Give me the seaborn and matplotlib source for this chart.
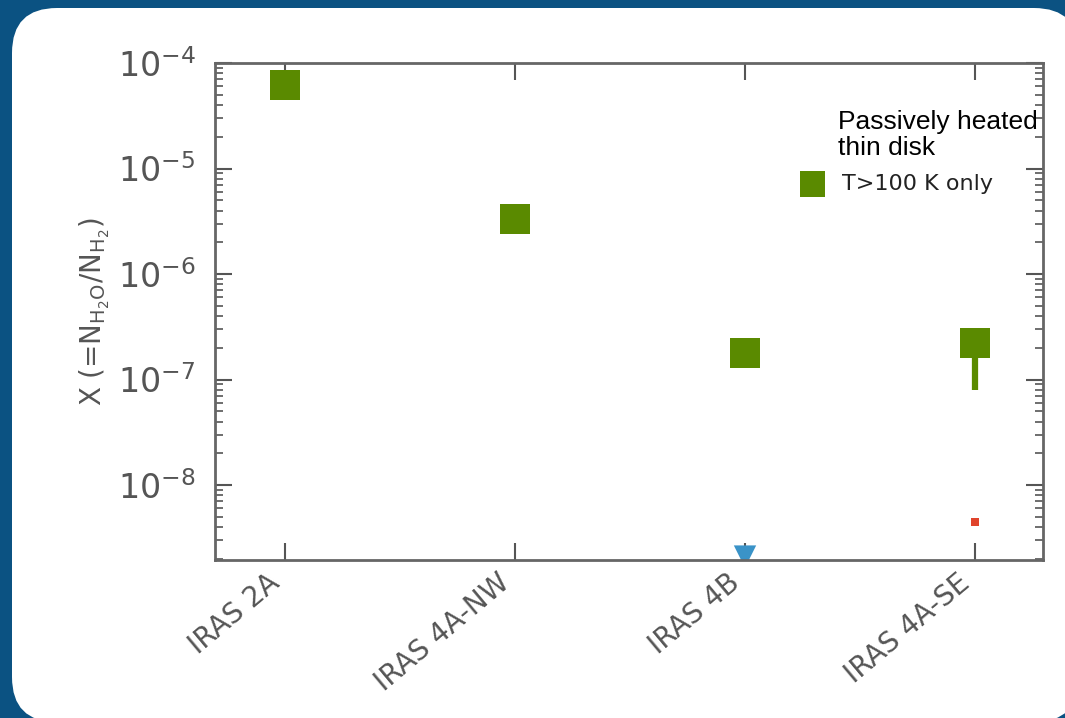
import matplotlib
matplotlib.use("Agg")
import matplotlib.pyplot as plt
from matplotlib.patches import FancyBboxPatch
from matplotlib.transforms import IdentityTransform
import matplotlib.ticker as mticker
import seaborn as sns
import pandas as pd
import numpy as np

# ---- data ----
sources = ["IRAS 2A", "IRAS 4A-NW", "IRAS 4B", "IRAS 4A-SE"]
abund_hot = [6.2e-5, 3.3e-6, 1.8e-7, 2.2e-7]      # T>100 K only (green squares)
err_low_hot = [0.0, 0.0, 0.0, 1.4e-7]             # lower error extent
red_src = ["IRAS 4A-SE"]
red_val = [4.45e-9]
blue_src = ["IRAS 4B"]
blue_val = [2.1e-9]
legend_title = "Passively heated\nthin disk"
legend_label = "T>100 K only"
ylabel = r"X (=N$_{\mathrm{H_2O}}$/N$_{\mathrm{H_2}}$)"

GREEN = "#5a8a00"
GRAY = "#555555"
BLUE_BG = "#0b5282"

sns.set_theme(style="ticks")
plt.rcParams["font.family"] = ["DejaVu Sans"]

fig = plt.figure(figsize=(10.65, 7.18), dpi=100, facecolor=BLUE_BG)
panel = FancyBboxPatch((12, -4), 1067, 714, boxstyle="round,pad=0,rounding_size=45",
                       transform=IdentityTransform(), facecolor="white", edgecolor="none",
                       zorder=-10)
fig.patches.append(panel)

ax = fig.add_axes([215/1065, 1-560/718, (1043-215)/1065, (560-63)/718])
ax.set_facecolor("white")

df = pd.DataFrame({"source": sources, "X": abund_hot})
pos = {s: i for i, s in enumerate(sources)}
df["xpos"] = df["source"].map(pos)

# error bar (lower only)
ax.errorbar(df["xpos"], df["X"], yerr=[err_low_hot, [0]*len(sources)], fmt="none",
            ecolor=GREEN, elinewidth=4.5, capsize=0, zorder=2)

sns.scatterplot(data=df, x="xpos", y="X", marker="s", s=470, color=GREEN,
                edgecolor="none", label=legend_label, ax=ax, zorder=3)

ax.scatter([pos[s] for s in red_src], red_val, marker="s", s=30, color="#e0442c",
           edgecolor="none", zorder=3)
ax.scatter([pos[s] for s in blue_src], blue_val, marker="v", s=260, color="#3a93c8",
           edgecolor="none", zorder=1.5)

ax.set_yscale("log")
ax.set_ylim(1.95e-9, 1.0e-4)
ax.set_xlim(-0.305, 3.296)
ax.set_xticks(range(len(sources)))
ax.set_xticklabels(sources, rotation=40, ha="right", fontsize=20, color=GRAY)
ax.set_xlabel("")
ax.set_ylabel(ylabel, fontsize=20, color=GRAY, labelpad=4)

ax.yaxis.set_major_locator(mticker.LogLocator(base=10, numticks=10))
ax.yaxis.set_minor_locator(mticker.LogLocator(base=10, subs=np.arange(2, 10), numticks=20))
ax.yaxis.set_minor_formatter(mticker.NullFormatter())

ax.tick_params(axis="both", which="major", direction="in", length=12, width=1.5,
               color=GRAY, top=True, right=True)
ax.tick_params(axis="y", which="minor", direction="in", length=6, width=1.2,
               color=GRAY, left=True, right=True)
ax.tick_params(axis="y", which="major", labelsize=24, labelcolor=GRAY, pad=14)
ax.tick_params(axis="x", which="major", pad=6)
ax.tick_params(axis="x", which="minor", bottom=False, top=False)

for sp in ax.spines.values():
    sp.set_color("#666666")
    sp.set_linewidth(2)

leg = ax.legend(loc="upper left", bbox_to_anchor=(0.684, 0.795), frameon=False,
                fontsize=16, handletextpad=0.35, borderaxespad=0, markerscale=0.85)
for t in leg.get_texts():
    t.set_color("#222222")

ax.text(0.753, 0.905, legend_title, transform=ax.transAxes, fontsize=19,
        family=["Liberation Sans", "DejaVu Sans"], color="black", va="top", ha="left",
        linespacing=1.1)

fig.savefig("out.png", dpi=100, facecolor=BLUE_BG)
